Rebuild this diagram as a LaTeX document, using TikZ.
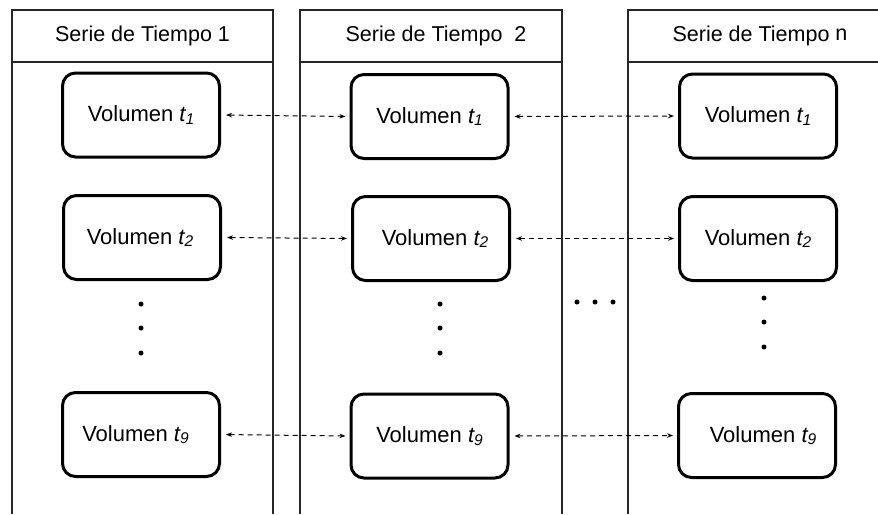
\documentclass[tikz,border=0pt]{standalone}
\usepackage{fontspec}
\setmainfont{Liberation Sans}
\usetikzlibrary{arrows.meta}

% italic time index with a small, slightly lowered digit
\newcommand{\tidx}[1]{\textit{t\raisebox{-0.1em}{\fontsize{15.5}{15.5}\selectfont #1}}}

\begin{document}
\begin{tikzpicture}[x=1pt,y=-1pt,
  panelline/.style={line width=1.1pt,draw=black!85},
  volbox/.style={draw,line width=3pt,rounded corners=13pt,
    minimum width=157pt,minimum height=84pt,inner sep=0pt,
    font=\fontsize{22}{26}\selectfont},
  headtext/.style={font=\fontsize{21.5}{25}\selectfont,inner sep=0pt},
  link/.style={line width=1pt,dash pattern=on 5pt off 4pt,
    {Stealth[length=6pt,width=4.5pt]}-{Stealth[length=6pt,width=4.5pt]},
    shorten <=5pt,shorten >=4pt},
  vdot/.style={circle,fill=black,inner sep=0pt,minimum size=5pt}]
\useasboundingbox (0,0) rectangle (878,514);
\fill[white] (0,0) rectangle (878,514);

% panels (open at the bottom; the last one runs past the right edge)
\begin{scope}
\clip (0,0) rectangle (878,514);
\draw[panelline] (12,514) -- (12,10) -- (273,10) -- (273,514);
\draw[panelline] (12,62) -- (273,62);
\draw[panelline] (300,514) -- (300,10) -- (562,10) -- (562,514);
\draw[panelline] (300,62) -- (562,62);
\draw[panelline] (628,514) -- (628,10) -- (890,10) -- (890,514);
\draw[panelline] (628,62) -- (890,62);
\end{scope}

% headers
\node[headtext] (h1) at (142.5,36) {Serie de Tiempo 1};
\node[headtext] (h2) at (436,36) {Serie de Tiempo\ \ 2};
\node[headtext] (h3) at (760,36) {Serie de Tiempo \raisebox{1pt}{n}};

% volume boxes
\node[volbox] (a1) at (141,115)   {Volumen \tidx{1}};
\node[volbox] (a2) at (142,237.5) {\hspace*{-4pt}Volumen \tidx{2}};
\node[volbox] (a9) at (141,434.5) {\hspace*{-11pt}\raisebox{-2pt}{Volumen \tidx{9}}};

\node[volbox] (b1) at (429.5,116.5) {Volumen \tidx{1}};
\node[volbox] (b2) at (431,238.5)   {\hspace*{8pt}Volumen \tidx{2}};
\node[volbox] (b9) at (429.5,436)   {Volumen \tidx{9}};

\node[volbox] (c1) at (758,116)   {Volumen \tidx{1}};
\node[volbox] (c2) at (758,238.5) {Volumen \tidx{2}};
\node[volbox] (c9) at (757,435.5) {\hspace*{12pt}Volumen \tidx{9}};

% links between consecutive series
\draw[link] (a1.east) -- (b1.west);
\draw[link] (a2.east) -- (b2.west);
\draw[link] (a9.east) -- (b9.west);
\draw[link] (b1.east) -- (c1.west);
\draw[link] (b2.east) -- (c2.west);
\draw[link] (b9.east) -- (c9.west);

% vertical ellipses
\node[vdot] (p1) at (141,304) {};
\node[vdot] (p2) at (141,328) {};
\node[vdot] (p3) at (141,353) {};
\node[vdot] (q1) at (440,304) {};
\node[vdot] (q2) at (440,328) {};
\node[vdot] (q3) at (440,353) {};
\node[vdot] (r1) at (764,298) {};
\node[vdot] (r2) at (764,322) {};
\node[vdot] (r3) at (764,347) {};

% horizontal ellipsis between the series
\node[vdot] (s1) at (577,302) {};
\node[vdot] (s2) at (595,302) {};
\node[vdot] (s3) at (613,302) {};
\end{tikzpicture}
\end{document}
